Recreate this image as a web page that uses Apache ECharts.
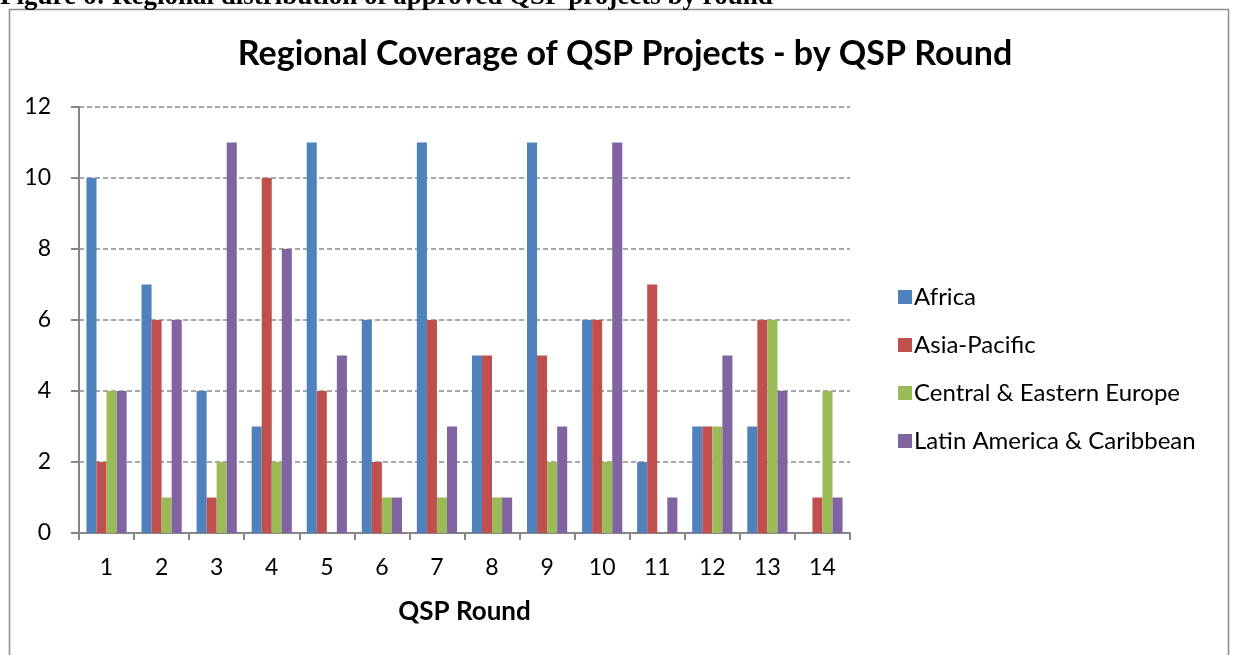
<!DOCTYPE html>
<html>
<head>
<meta charset="utf-8">
<script src="https://cdn.jsdelivr.net/npm/echarts@6/dist/echarts.min.js"></script>
<style>
  html, body { margin: 0; padding: 0; background: #fff; }
  #chart { width: 1234px; height: 655px; }
</style>
</head>
<body>
<div id="chart"></div>
<script>
// 数据：各轮次各地区的项目数
var rounds = ['1', '2', '3', '4', '5', '6', '7', '8', '9', '10', '11', '12', '13', '14'];
var africa = [10, 7, 4, 3, 11, 6, 11, 5, 11, 6, 2, 3, 3, 0];
var asiaPacific = [2, 6, 1, 10, 4, 2, 6, 5, 5, 6, 7, 3, 6, 1];
var centralEurope = [4, 1, 2, 2, 0, 1, 1, 1, 2, 2, 0, 3, 6, 4];
var latinAmerica = [4, 6, 11, 8, 5, 1, 3, 1, 3, 11, 1, 5, 4, 1];
var yTicks = [0, 2, 4, 6, 8, 10, 12];

var font = 'Lato, "Open Sans", sans-serif';

var myChart = echarts.init(document.getElementById('chart'));

function bar(name, data, color) {
    return {
        name: name,
        type: 'bar',
        data: data,
        barGap: '0%',
        barCategoryGap: '27%',
        itemStyle: { color: color },
        emphasis: { disabled: true }
    };
}

var option = {
    animation: false,
    graphic: [
        // 外框
        {
            type: 'rect',
            shape: { x: 9.5, y: 9.5, width: 1219, height: 660 },
            style: { fill: 'none', stroke: '#8c8c8c', lineWidth: 1.5 },
            z: 0
        },
        // 顶部被截断的图注
        {
            type: 'text',
            left: 0,
            top: -16,
            style: {
                text: 'Figure 6: Regional distribution of approved QSP projects by round',
                font: 'bold 27px "Liberation Serif", "DejaVu Serif", serif',
                fill: '#000'
            }
        }
    ],
    title: {
        text: 'Regional Coverage of QSP Projects - by QSP Round',
        left: 620,
        textAlign: 'center',
        top: 32,
        textStyle: { fontFamily: font, fontWeight: 'bold', fontSize: 34, color: '#000' }
    },
    legend: {
        orient: 'vertical',
        left: 893,
        top: 280,
        itemWidth: 14,
        itemHeight: 14,
        itemGap: 24,
        icon: 'rect',
        textStyle: { fontFamily: font, fontSize: 24, color: '#000', padding: [0, 0, 0, -3] },
        data: ['Africa', 'Asia-Pacific', 'Central & Eastern Europe', 'Latin America & Caribbean']
    },
    grid: { left: 79, right: 384, top: 107, bottom: 122 },
    xAxis: {
        type: 'category',
        data: rounds,
        name: 'QSP Round',
        nameLocation: 'middle',
        nameGap: 66,
        nameTextStyle: { fontFamily: font, fontWeight: 'bold', fontSize: 26, color: '#000' },
        axisLine: { lineStyle: { color: '#868686', width: 2 } },
        axisTick: { show: true, length: 7, lineStyle: { color: '#868686', width: 2 } },
        axisLabel: { fontFamily: font, fontSize: 23, color: '#000', margin: 23 }
    },
    yAxis: {
        type: 'value',
        min: yTicks[0],
        max: yTicks[yTicks.length - 1],
        interval: 2,
        axisLine: { show: true, lineStyle: { color: '#868686', width: 2 } },
        axisTick: { show: true, length: 8, lineStyle: { color: '#868686', width: 2 } },
        axisLabel: { fontFamily: font, fontSize: 23, color: '#000', margin: 28 },
        splitLine: { lineStyle: { color: '#8a8a8a', width: 1.5, type: [5, 3] } }
    },
    series: [
        bar('Africa', africa, '#4F81BD'),
        bar('Asia-Pacific', asiaPacific, '#C0504D'),
        bar('Central & Eastern Europe', centralEurope, '#9BBB59'),
        bar('Latin America & Caribbean', latinAmerica, '#8064A2')
    ]
};

myChart.setOption(option);
</script>
</body>
</html>
